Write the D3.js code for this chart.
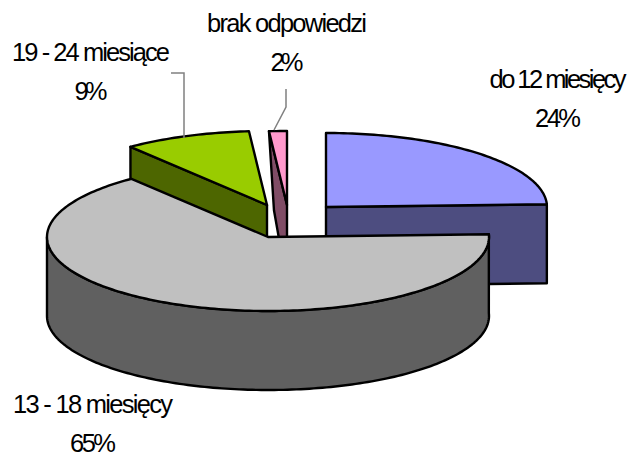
<!DOCTYPE html>
<html><head><meta charset="utf-8">
<script src="https://d3js.org/d3.v7.min.js"></script>
<style>html,body{margin:0;padding:0;background:#fff}svg{display:block}
text{font-family:"Liberation Sans",Arial,sans-serif;font-size:25.5px;fill:#000;text-anchor:middle}</style>
</head><body><div id="c"></div>
<script>
const categories=["do 12 miesięcy","13 - 18 miesięcy","19 - 24 miesiące","brak odpowiedzi"];
const values=[24.4,65.0,9.3,1.3];
const percentLabels=["24%","65%","9%","2%"];
const topColors=["#9999ff","#c0c0c0","#99cc00","#ff99cc"];
const sideColors=["#4d4d80","#606060","#4d6600","#804d66"];
const apexes=[[326,207],[268,237],[267,205],[287,205]];
const labelPos=[[558,88],[93,413],[91,61],[287,32]];
const labelWidths=[137,160,158,160];
const percentWidths=[46,46,33,33];
const leaders=[null,null,[[171,73],[184,73],[184,138]],[[286,89],[286,107],[274,130]]];
const rx=221,ry=74,depth=79;
const W=637,H=458;
const svg=d3.select("#c").append("svg").attr("width",W).attr("height",H);
const pie=d3.pie().sort(null).value(d=>d);
const arcs=pie(values);
function pt(c,a,dz=0){return [c[0]+rx*Math.sin(a),c[1]-ry*Math.cos(a)+dz];}
function ptsArc(c,a0,a1,dz=0){const n=Math.max(2,Math.ceil(Math.abs(a1-a0)/0.02));
  return d3.range(n+1).map(i=>pt(c,a0+(a1-a0)*i/n,dz));}
const line=d3.line();
function draw(points,fill){svg.append("path").attr("d",line(points)+"Z").attr("fill",fill)
  .attr("stroke","#000").attr("stroke-width",2.4).attr("stroke-linejoin","round");}
function slice(i){
  const a=arcs[i],c=apexes[i],a0=a.startAngle,a1=a.endAngle;
  const apexLow=[c[0],c[1]+depth];
  if(i===2){draw([pt(c,a0),c,apexLow,pt(c,a0,depth)],sideColors[i]);}
  if(i===3){const t=pt(c,a0);draw([t,c,apexLow,[t[0]+5,t[1]+depth]],sideColors[i]);}
  if(i===0){const e=pt(c,a1);draw([c,e,[e[0],e[1]+depth],apexLow],sideColors[i]);}
  if(i===1){
    const end=Math.min(a1,Math.PI*1.5);
    draw(ptsArc(c,a0,end).concat(ptsArc(c,end,a0,depth)),sideColors[i]);
  }
  draw([c].concat(ptsArc(c,a0,a1)),topColors[i]);
}
[3,2,0,1].forEach(slice);
leaders.forEach(l=>{if(l)svg.append("path").attr("d",line(l)).attr("fill","none").attr("stroke","#808080").attr("stroke-width",1.5);});
categories.forEach((t,i)=>{
  svg.append("text").attr("x",labelPos[i][0]).attr("y",labelPos[i][1])
    .attr("textLength",labelWidths[i]).attr("lengthAdjust","spacing").text(t);
  svg.append("text").attr("x",labelPos[i][0]).attr("y",labelPos[i][1]+39)
    .attr("textLength",percentWidths[i]).attr("lengthAdjust","spacing").text(percentLabels[i]);
});
</script></body></html>
